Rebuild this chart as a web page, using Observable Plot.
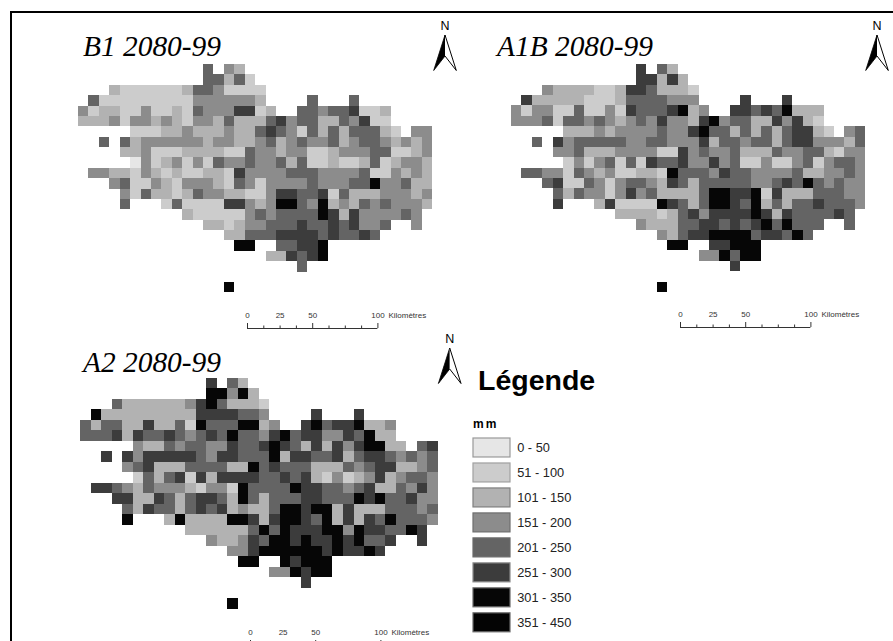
<!DOCTYPE html>
<html>
<head>
<meta charset="utf-8">
<script src="https://cdn.jsdelivr.net/npm/d3@7"></script>
<script src="https://cdn.jsdelivr.net/npm/@observablehq/plot@0.6"></script>
<style>
html,body{margin:0;padding:0;background:#fff}
#page{position:relative;width:893px;height:641px;overflow:hidden;background:#fff}
#page>div,#page>svg{position:absolute}
#page svg{background:transparent;overflow:visible}
</style>
</head>
<body>
<div id="page"></div>
<script>
// Rainfall classes
const classLabels = ["0 - 50","51 - 100","101 - 150","151 - 200","201 - 250","251 - 300","301 - 350","351 - 450"];
const classGrays  = ["#e6e6e6","#cccccc","#b2b2b2","#8c8c8c","#646464","#3c3c3c","#060606","#040404"];
const classEdges  = ["#999999","#a0a0a0","#7f7f7f","#6e6e6e","#6a6a6a","#8a8a8a","#6a6a6a","#6a6a6a"];

// Each row of the grid: one digit (class number) per column, "." = no data. Spaces only group by ten.
const rowsB1 = [
".......... ..5.43",
".......... ..55352",
"...3222222 35542222",
".522222222 24444443.. ..5...5",
"4233224223 254446623. .554556223",
"3334244343 2443533356 4553354622",
".....22233 4333433565 4253535553 2.44",
"..5.534444 4434433453 4544534554 3434",
"....334222 3333225443 4422344455 2234",
".....14234 2425445445 3522322352 3443",
".443324323 2233264444 5554444522 4343",
"...4522432 4443254244 4454445574 4533",
"....425332 3544332246 6556253334 4434",
"....5...25 2222664347 7547343545 4443",
".......... 3222224545 5557636444 454",
".......... ..33234455 5655656445 ..4",
".......... ....335556 666565565",
".......... .....77..5 5667",
".......... ........33 6567",
".......... .......... .5",
"",
".......... ....7"
];
const rowsA1B = [
".......... ..6.53",
".......... ..66363",
"...4333322 36653332",
".633333222 35555444.. ..6...6",
"4244225224 265556734. .665657333",
"4445255454 3454644367 4553364632",
".....33343 4444544675 5353535663 2.45",
"..5.645555 5445544463 5545535664 4435",
"....445333 4444226454 4533354455 3244",
".....24245 2526556446 4522422452 4554",
".554425434 2233275554 6554444533 4454",
"...5622542 4554365355 5554456575 4544",
"....535442 4645333357 7667263335 5544",
"....6...36 2222765357 7657353556 5554",
".......... 3333235646 6667636555 565",
".......... ..43335566 5656757555 ..5",
".......... ....435667 777566575",
".......... .....77..6 6777",
".......... ........44 7577",
".......... .......... .6",
"",
".......... ....7"
];
const rowsA2 = [
".......... ..6.53",
".......... ..77473",
"...5333333 46753332",
".733333333 36666554.. ..6...6",
"5355336335 275557734. .675667334",
"5556365565 4565755467 5664465733",
".....43354 5544655676 5363646773 3.56",
"..6.646666 6546655573 6655635665 4545",
"....456333 5555337565 5533354566 3345",
".....25356 2636666556 5632423463 4554",
".665435444 3244275555 7665545633 5464",
"...6633653 5665375355 5665557675 5644",
"....536553 5656343357 7677363335 5545",
"....7...37 3333776367 7657363657 5554",
".......... 3333335757 6667747665 576",
".......... ..43346577 6766767556 ..6",
".......... ....446777 777676676",
".......... .....77..7 6777",
".......... ........44 7677",
".......... .......... .6",
"",
".......... ....7"
];

const scaleMajor = [0, 50, 100];
const scaleMinor = [12.5, 25, 37.5, 62.5, 75, 87.5];
const scaleLabels = [0, 25, 50, 100];

const page = document.getElementById("page");
function place(node, left, top) {
  node.style.position = "absolute";
  node.style.left = left + "px";
  node.style.top = top + "px";
  page.appendChild(node);
}
const colorScale = {type: "ordinal", domain: classLabels, range: classGrays};

function cellsOf(rows) {
  const out = [];
  rows.forEach((raw, r) => {
    [...raw.replace(/ /g, "")].forEach((ch, c) => {
      if (ch !== ".") out.push({col: c, row: r, cls: classLabels[+ch - 1]});
    });
  });
  return out;
}

function panel(rows, left, top, w, h) {
  place(Plot.plot({
    width: w, height: h,
    margin: 0,
    x: {type: "band", domain: d3.range(34), range: [0, w], padding: 0, round: false, axis: null},
    y: {type: "band", domain: d3.range(22), range: [0, h], padding: 0, round: false, axis: null},
    color: colorScale,
    marks: [Plot.cell(cellsOf(rows), {x: "col", y: "row", fill: "cls", shapeRendering: "crispEdges"})]
  }), left, top);
}
panel(rowsB1, 78.3, 64.3, 354.3, 228.4);
panel(rowsA1B, 511, 64.3, 354.3, 227.9);
panel(rowsA2, 80.3, 378.3, 357.7, 231);

function scaleBar(left, top) {
  const H = 28;
  const font = {fontFamily: "Liberation Sans", fontSize: 8, fill: "#333"};
  place(Plot.plot({
    width: 210, height: H, margin: 0,
    x: {domain: [0, 100], range: [10, 140.4], axis: null},
    y: {domain: [0, 1], range: [H - 1, H - 6], axis: null},
    marks: [
      Plot.ruleY([0], {x1: 0, x2: 100, stroke: "#333", strokeWidth: 1}),
      Plot.ruleX(scaleMajor, {y1: 0, y2: 1, stroke: "#333"}),
      Plot.ruleX(scaleMinor, {y1: 0, y2: 0.5, stroke: "#333"}),
      Plot.text(scaleLabels, {x: d => d, y: 1, dy: -8, text: d => String(d), ...font}),
      Plot.text(["Kilomètres"], {x: 100, y: 1, dy: -8, dx: 10.5, text: d => d, textAnchor: "start", ...font})
    ]
  }), left, top);
}
scaleBar(237.3, 301);
scaleBar(670, 300);
scaleBar(240, 617.5);

// Legend swatches and labels
place(Plot.plot({
  width: 150, height: 197, margin: 0,
  x: {type: "band", domain: ["swatch"], range: [1, 38], padding: 0, round: false, axis: null},
  y: {type: "band", domain: classLabels, range: [1, 194.8], paddingInner: 0.24, paddingOuter: 0, round: false, axis: null},
  color: colorScale,
  marks: [
    Plot.cell(classLabels.map((c, i) => ({c, e: classEdges[i]})), {
      x: () => "swatch", y: "c", fill: "c", stroke: "e", strokeWidth: 1.2
    }),
    Plot.text(classLabels, {
      x: () => "swatch", y: d => d, text: d => d, dx: 25.2, textAnchor: "start",
      fontFamily: "Liberation Sans", fontSize: 12.8, fill: "#222"
    })
  ]
}), 472, 436.7);

// Frame, titles, north arrows
function arrow(cx, tipY) {
  return `<text x="${cx}" y="${tipY - 5.5}" text-anchor="middle" font-family="Liberation Sans" font-size="12.5" fill="#000">N</text>
  <path d="M${cx} ${tipY}L${cx - 11.3} ${tipY + 35.5}L${cx} ${tipY + 21}Z" fill="#000" stroke="#000" stroke-width=".8"/>
  <path d="M${cx} ${tipY}L${cx + 11.3} ${tipY + 35.5}L${cx} ${tipY + 21}" fill="#fff" stroke="#000" stroke-width="1"/>`;
}
const titleFont = `font-family="Liberation Serif" font-style="italic" font-size="29.4" fill="#000"`;
const overlay = document.createElement("div");
overlay.style.cssText = "left:0;top:0;width:893px;height:641px;pointer-events:none";
overlay.innerHTML = `<svg width="893" height="641" style="position:absolute;left:0;top:0">
  <path d="M893 12H11V641" fill="none" stroke="#000" stroke-width="2"/>
  <text x="83" y="56" ${titleFont}>B1 2080-99</text>
  <text x="497" y="56" ${titleFont}>A1B 2080-99</text>
  <text x="83" y="372" ${titleFont}>A2 2080-99</text>
  ${arrow(445, 35)}
  ${arrow(877, 35)}
  ${arrow(449.7, 348)}
  <text x="478" y="390" font-family="Liberation Sans" font-weight="bold" font-size="28.5" fill="#000">Légende</text>
  <text x="473" y="428" font-family="Liberation Sans" font-weight="bold" font-size="12" letter-spacing="2" fill="#000">mm</text>
</svg>`;
page.appendChild(overlay);
</script>
</body>
</html>
